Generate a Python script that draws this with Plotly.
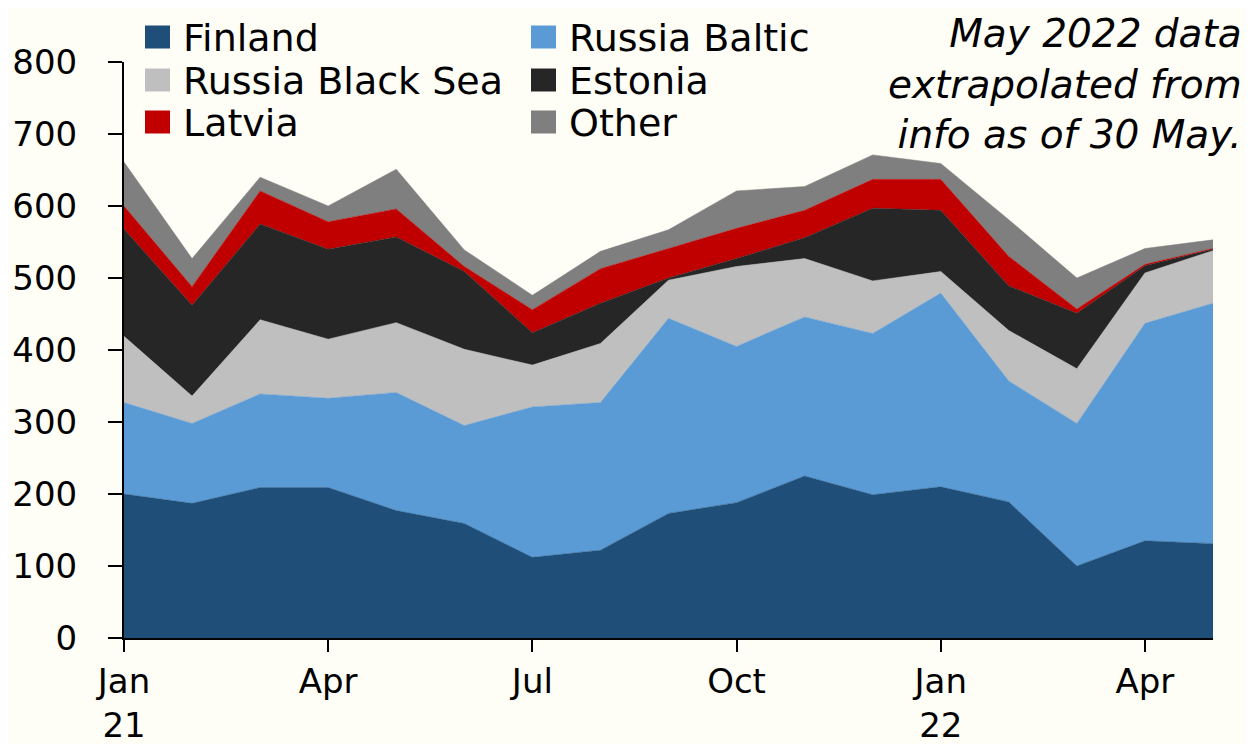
import plotly.graph_objects as go

months = ["Jan 21", "Feb 21", "Mar 21", "Apr 21", "May 21", "Jun 21", "Jul 21", "Aug 21",
          "Sep 21", "Oct 21", "Nov 21", "Dec 21", "Jan 22", "Feb 22", "Mar 22", "Apr 22", "May 22"]

finland = [200, 187, 209, 209, 177, 159, 112, 122, 173, 188, 225, 199, 210, 189, 100, 135, 131]
russia_baltic = [127, 111, 130, 124, 164, 136, 209, 205, 271, 217, 221, 224, 269, 168, 198, 302, 334]
russia_black_sea = [92, 38, 103, 82, 97, 106, 58, 82, 53, 111, 81, 73, 30, 70, 76, 70, 73]
estonia = [149, 126, 133, 125, 119, 108, 45, 56, 3, 11, 29, 101, 85, 62, 77, 10, 2]
latvia = [32, 26, 46, 38, 39, 7, 32, 48, 41, 42, 38, 40, 43, 41, 6, 2, 1]
other = [61, 39, 19, 22, 55, 23, 20, 24, 26, 52, 33, 34, 22, 51, 43, 22, 12]

series_names = ["Finland", "Russia Baltic", "Russia Black Sea", "Estonia", "Latvia", "Other"]
series_values = [finland, russia_baltic, russia_black_sea, estonia, latvia, other]
colors = ["#1F4E79", "#5B9BD5", "#BFBFBF", "#262626", "#C00000", "#7F7F7F"]

tick_vals = ["Jan 21", "Apr 21", "Jul 21", "Oct 21", "Jan 22", "Apr 22"]
tick_text = ["Jan<br>21", "Apr", "Jul", "Oct", "Jan<br>22", "Apr"]
y_ticks = [0, 100, 200, 300, 400, 500, 600, 700, 800]

note = "May 2022 data<br>extrapolated from<br>info as of 30 May."

BG = "#FFFEF6"
FONT = "DejaVu Sans"

W, H = 1253, 744
OFF = 8  # page body offset
ML, MR, MT, MB = 116, 48, 54, 114
PW, PH = W - ML - MR, H - MT - MB


def px_x(px):
    return (px - OFF - ML) / PW


def px_y(py):
    return (H - MB - (py - OFF)) / PH


fig = go.Figure()
for name, vals, col in zip(series_names, series_values, colors):
    fig.add_trace(go.Scatter(
        x=months, y=vals, name=name, mode="lines", stackgroup="one",
        line=dict(width=0.5, color=col), fillcolor=col, showlegend=False,
    ))

# legend drawn as swatches + labels in two columns
col_swatch_px = [145, 531]
col_text_px = [181, 567]
row_center_px = [37, 80, 122]
sw, sh = 25, 23
shapes = []
annotations = []
for i, (name, col) in enumerate(zip(series_names, colors)):
    c = i % 2
    r = i // 2
    cy = row_center_px[r]
    shapes.append(dict(
        type="rect", xref="paper", yref="paper",
        x0=px_x(col_swatch_px[c]), x1=px_x(col_swatch_px[c] + sw),
        y0=px_y(cy + sh / 2), y1=px_y(cy - sh / 2),
        fillcolor=col, line=dict(width=0), layer="above",
    ))
    annotations.append(dict(
        text=name, xref="paper", yref="paper",
        x=px_x(col_text_px[c]), y=px_y(cy + 1), xanchor="left", yanchor="middle",
        showarrow=False, font=dict(family=FONT, size=38, color="#000000"),
    ))

annotations.append(dict(
    text=note, xref="paper", yref="paper", x=px_x(1244), y=px_y(9),
    xanchor="right", yanchor="top", align="right", showarrow=False,
    font=dict(family=FONT, size=39, color="#000000", style="italic"),
))

fig.update_layout(
    width=W, height=H,
    margin=dict(l=ML, r=MR, t=MT, b=MB, autoexpand=False),
    paper_bgcolor=BG, plot_bgcolor=BG,
    font=dict(family=FONT, size=34, color="#000000"),
    showlegend=False,
    shapes=shapes,
    annotations=annotations,
)
fig.update_xaxes(
    type="category", range=[0, len(months) - 1],
    tickvals=tick_vals, ticktext=tick_text,
    ticks="outside", ticklen=12, tickwidth=2, tickcolor="#000000",
    showline=True, linewidth=2, linecolor="#000000",
    showgrid=False, zeroline=False, automargin=False,
    tickfont=dict(family=FONT, size=34, color="#000000"),
)
fig.update_yaxes(
    range=[0, 800], tickvals=y_ticks,
    ticks="outside", ticklen=14, tickwidth=2, tickcolor="#000000",
    showline=True, linewidth=2, linecolor="#000000",
    showgrid=False, zeroline=False, ticklabelstandoff=24, automargin=False,
    tickfont=dict(family=FONT, size=34, color="#000000"),
)

fig.write_html("out.html")
